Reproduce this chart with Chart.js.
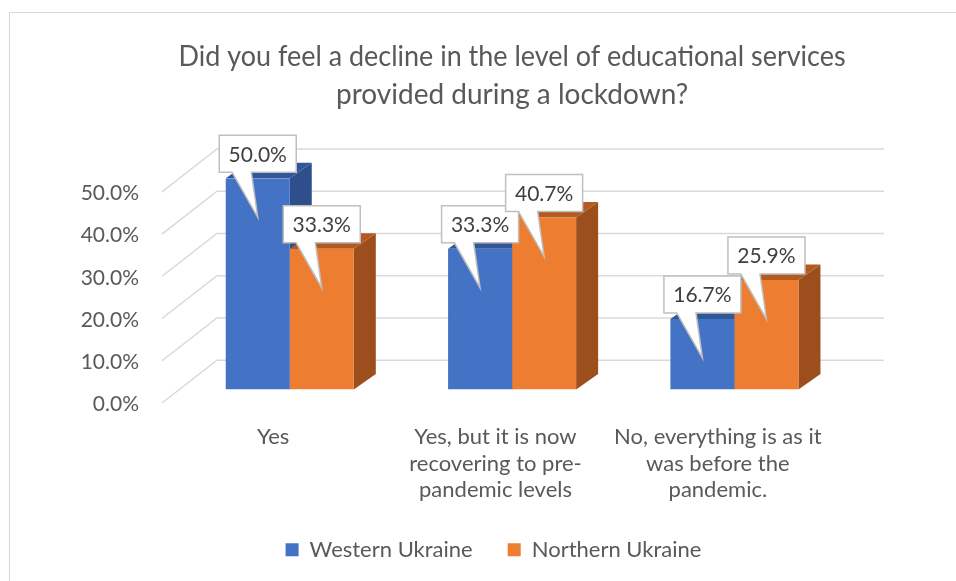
<!DOCTYPE html>
<html>
<head>
<meta charset="utf-8">
<script src="https://cdn.jsdelivr.net/npm/chart.js@4.4.0/dist/chart.umd.min.js"></script>
<style>
body { margin: 0; background: #fff; }
canvas { display: block; }
</style>
</head>
<body>
<canvas id="myChart" width="956" height="581"></canvas>
<script>
// data
var categories = [
	["Yes"],
	["Yes, but it is now", "recovering to pre-", "pandemic levels"],
	["No, everything is as it", "was before the", "pandemic."]
];
var seriesNames = ["Western Ukraine", "Northern Ukraine"];
var western = [0.500, 0.333, 0.167];
var northern = [0.333, 0.407, 0.259];
var yTicks = [0, 0.1, 0.2, 0.3, 0.4, 0.5];

var colorFront = ['#4472C4', '#ED7D31'];
var colorSide = ['#2E4F8B', '#9C4F1D'];
var colorTop = ['#30579A', '#B4591F'];

// 3d offsets (bar plane is the chart area)
var depthX = 22, depthY = 15.5;
var frontDX = -16.6, frontDY = 13.5;
var backDX = 38.4, backDY = -29.3;

function pct(v) {
	return (v * 100).toFixed(1) + '%';
}

var wallGrid = {
	id: 'wallGrid',
	beforeDraw: function(chart) {
		var ctx = chart.ctx;
		var area = chart.chartArea;
		var y = chart.scales.y;
		ctx.save();
		ctx.strokeStyle = '#d9d9d9';
		ctx.lineWidth = 1;
		ctx.strokeRect(9.5, 12.5, 1200, 1200);
		ctx.lineWidth = 1.5;
		yTicks.forEach(function(v) {
			var py = y.getPixelForValue(v);
			ctx.beginPath();
			ctx.moveTo(area.left + frontDX, py + frontDY);
			ctx.lineTo(area.left + backDX, py + backDY);
			ctx.lineTo(area.right + backDX, py + backDY);
			ctx.stroke();
		});
		ctx.restore();
	}
};

var bars3d = {
	id: 'bars3d',
	beforeDatasetsDraw: function(chart) {
		var ctx = chart.ctx;
		ctx.save();
		chart.data.datasets.forEach(function(ds, i) {
			chart.getDatasetMeta(i).data.forEach(function(bar) {
				var l = bar.x - bar.width / 2, r = bar.x + bar.width / 2;
				var t = bar.y, b = bar.base;
				ctx.fillStyle = colorSide[i];
				ctx.beginPath();
				ctx.moveTo(r, t);
				ctx.lineTo(r + depthX, t - depthY);
				ctx.lineTo(r + depthX, b - depthY);
				ctx.lineTo(r, b);
				ctx.closePath();
				ctx.fill();
				ctx.fillStyle = colorTop[i];
				ctx.beginPath();
				ctx.moveTo(l, t);
				ctx.lineTo(r, t);
				ctx.lineTo(r + depthX, t - depthY);
				ctx.lineTo(l + depthX, t - depthY);
				ctx.closePath();
				ctx.fill();
			});
		});
		ctx.restore();
	},
	afterDatasetsDraw: function(chart) {
		var ctx = chart.ctx;
		var w = 77, h = 37;
		ctx.save();
		ctx.font = '21px Lato';
		ctx.textAlign = 'center';
		ctx.textBaseline = 'middle';
		chart.data.datasets.forEach(function(ds, i) {
			chart.getDatasetMeta(i).data.forEach(function(bar, j) {
				var cx = bar.x;
				var bottom = bar.y - 6, top = bottom - h, left = cx - w / 2;
				ctx.beginPath();
				ctx.moveTo(left, top);
				ctx.lineTo(left + w, top);
				ctx.lineTo(left + w, bottom);
				ctx.lineTo(left + w * 5 / 12, bottom);
				ctx.lineTo(cx, bar.y + 39);
				ctx.lineTo(left + w * 2 / 12, bottom);
				ctx.lineTo(left, bottom);
				ctx.closePath();
				ctx.fillStyle = '#ffffff';
				ctx.fill();
				ctx.strokeStyle = '#bfbfbf';
				ctx.lineWidth = 1.5;
				ctx.stroke();
				ctx.fillStyle = '#404040';
				ctx.fillText(pct(ds.data[j]), cx, top + h / 2 + 1);
			});
		});
		ctx.restore();
	}
};

var ctx = document.getElementById("myChart").getContext('2d');
var myChart = new Chart(ctx, {
	type: 'bar',
	data: {
		labels: categories,
		datasets: [{
			label: seriesNames[0],
			data: western,
			backgroundColor: colorFront[0]
		}, {
			label: seriesNames[1],
			data: northern,
			backgroundColor: colorFront[1]
		}]
	},
	options: {
		responsive: false,
		animation: false,
		devicePixelRatio: 1,
		categoryPercentage: 0.576,
		barPercentage: 1,
		layout: { padding: { left: 31, right: 0, top: 0, bottom: 10.3 } },
		plugins: {
			title: {
				display: true,
				fullSize: false,
				text: ["Did you feel a decline in the level of educational services", "provided during a lockdown?"],
				color: '#595959',
				font: { family: 'Lato', size: 28, weight: 'normal', lineHeight: 38 / 28 },
				padding: { top: 38, bottom: 64.3 }
			},
			legend: {
				position: 'bottom',
				labels: {
					boxWidth: 13,
					boxHeight: 13,
					padding: 35,
					color: '#595959',
					font: { family: 'Lato', size: 22 }
				}
			},
			tooltip: { enabled: false }
		},
		scales: {
			x: {
				grid: { display: false, drawTicks: false },
				border: { display: false },
				ticks: {
					color: '#595959',
					font: { family: 'Lato', size: 22, lineHeight: 26.5 / 22 },
					padding: 34.2,
					labelOffset: frontDX,
					maxRotation: 0,
					autoSkip: false
				},
				afterFit: function(scale) { scale.height = 114.2; }
			},
			y: {
				min: 0,
				max: 0.5,
				grid: { display: false, drawTicks: false },
				border: { display: false },
				ticks: {
					stepSize: 0.1,
					color: '#595959',
					font: { family: 'Lato', size: 21 },
					padding: 39.6,
					labelOffset: 15,
					callback: function(v) { return pct(v); }
				},
				afterFit: function(scale) { scale.width = 147.6; }
			},
			y2: {
				position: 'right',
				grid: { display: false, drawTicks: false },
				border: { display: false },
				ticks: { display: false },
				afterFit: function(scale) { scale.width = 110.4; }
			}
		}
	},
	plugins: [wallGrid, bars3d]
});
</script>
</body>
</html>
